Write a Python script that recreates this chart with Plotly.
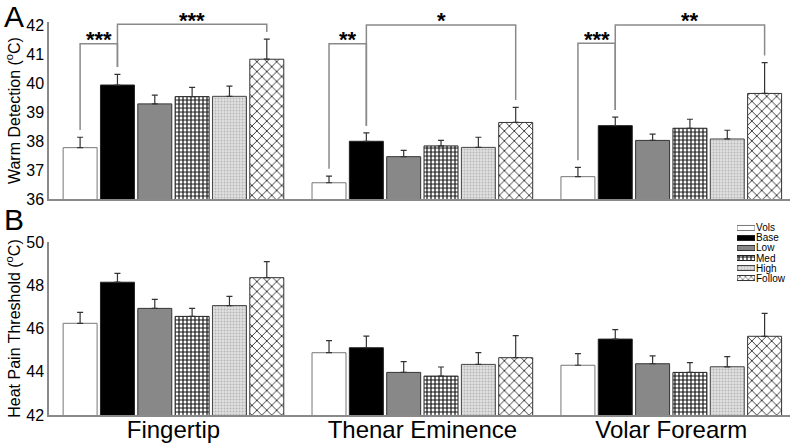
import plotly.graph_objects as go

# ---------------- data ----------------
sites = ["Fingertip", "Thenar Eminence", "Volar Forearm"]
series = ["Vols", "Base", "Low", "Med", "High", "Follow"]

warm_mean = {
    "Vols":   [37.77, 36.56, 36.77],
    "Base":   [39.93, 37.99, 38.53],
    "Low":    [39.28, 37.46, 38.02],
    "Med":    [39.53, 37.83, 38.44],
    "High":   [39.54, 37.78, 38.07],
    "Follow": [40.82, 38.64, 39.64],
}
warm_err = {
    "Vols":   [0.36, 0.23, 0.32],
    "Base":   [0.37, 0.29, 0.29],
    "Low":    [0.30, 0.22, 0.22],
    "Med":    [0.32, 0.19, 0.31],
    "High":   [0.35, 0.35, 0.30],
    "Follow": [0.69, 0.52, 1.06],
}
heat_mean = {
    "Vols":   [46.24, 44.88, 44.30],
    "Base":   [48.14, 45.11, 45.51],
    "Low":    [46.93, 43.97, 44.37],
    "Med":    [46.56, 43.80, 43.97],
    "High":   [47.06, 44.34, 44.23],
    "Follow": [48.35, 44.65, 45.64],
}
heat_err = {
    "Vols":   [0.51, 0.56, 0.54],
    "Base":   [0.41, 0.54, 0.44],
    "Low":    [0.42, 0.50, 0.36],
    "Med":    [0.37, 0.42, 0.45],
    "High":   [0.43, 0.54, 0.47],
    "Follow": [0.74, 1.02, 1.06],
}

# significance comparisons (panel A): site index, bar i, bar j, bracket level, label
sig_site = [0, 0, 1, 1, 2, 2]
sig_from = ["Vols", "Base", "Vols", "Base", "Vols", "Base"]
sig_to = ["Base", "Follow", "Base", "Follow", "Base", "Follow"]
sig_level = [41.35, 42.03, 41.35, 42.0, 41.37, 42.0]
sig_label = ["***", "***", "**", "*", "***", "**"]

warm_ticks = [36, 37, 38, 39, 40, 41, 42]
heat_ticks = [42, 44, 46, 48, 50]

# ---------------- styles ----------------
styles = {
    "Vols":   dict(bg="#ffffff", fg="#ffffff", shape="", size=8, sol=0.3, line="#777777"),
    "Base":   dict(bg="#000000", fg="#000000", shape="", size=8, sol=0.3, line="#222222"),
    "Low":    dict(bg="#888888", fg="#888888", shape="", size=8, sol=0.3, line="#333333"),
    "Med":    dict(bg="#ffffff", fg="#111111", shape="+", size=4, sol=0.5, line="#222222"),
    "High":   dict(bg="#e2e2e2", fg="#b5b5b5", shape=".", size=3, sol=0.35, line="#444444"),
    "Follow": dict(bg="#ffffff", fg="#333333", shape="x", size=7, sol=0.25, line="#333333"),
}

BARGAP = 0.1
n = len(series)
slot = (1 - BARGAP) / n


def bar_x(site_idx, name):
    j = series.index(name)
    return site_idx - (1 - BARGAP) / 2 + slot * (j + 0.5)


fig = go.Figure()

for name in series:
    s = styles[name]
    pat = dict(shape=s["shape"], fgcolor=s["fg"], bgcolor=s["bg"], size=s["size"],
               solidity=s["sol"], fillmode="replace")
    for means, errs, xa, ya in [(warm_mean, warm_err, "x", "y"), (heat_mean, heat_err, "x2", "y2")]:
        fig.add_trace(go.Bar(
            x=sites, y=means[name], name=name, xaxis=xa, yaxis=ya,
            marker=dict(color=s["bg"], line=dict(color=s["line"], width=1), pattern=pat),
            error_y=dict(type="data", array=errs[name], arrayminus=[0] * 3, symmetric=False,
                         color="#333333", thickness=1.2, width=3),
            showlegend=False, hoverinfo="skip",
        ))
    # legend patch on its own small axis
    fig.add_trace(go.Bar(
        x=[1], y=[name], orientation="h", xaxis="x3", yaxis="y3",
        width=0.5, offset=-0.25,
        marker=dict(color=s["bg"], line=dict(color=s["line"], width=1),
                    pattern=dict(shape=s["shape"], fgcolor=s["fg"], bgcolor=s["bg"],
                                 size=4 if s["shape"] == "x" else s["size"],
                                 solidity=s["sol"], fillmode="replace")),
        showlegend=False, hoverinfo="skip",
    ))

# brackets and stars
GAP = 0.25
for si, a, b, lvl, lab in zip(sig_site, sig_from, sig_to, sig_level, sig_label):
    xa_ = bar_x(si, a)
    xb_ = bar_x(si, b)
    ya_ = warm_mean[a][si] + warm_err[a][si] + GAP
    yb_ = warm_mean[b][si] + warm_err[b][si] + GAP
    fig.add_shape(type="path", xref="x", yref="y",
                  path=f"M {xa_},{ya_} L {xa_},{lvl} L {xb_},{lvl} L {xb_},{yb_}",
                  line=dict(color="#8a8a8a", width=1.5))
    fig.add_annotation(x=(xa_ + xb_) / 2, y=lvl, xref="x", yref="y", text="<b>" + lab + "</b>",
                       showarrow=False, yanchor="middle", yshift=4,
                       font=dict(size=22, color="black", family="Liberation Sans"))

# panel letters
fig.add_annotation(x=-0.064, y=1.005, xref="paper", yref="paper", text="A", showarrow=False,
                   xanchor="left", yanchor="top", font=dict(size=30, color="black", family="Liberation Sans"))
fig.add_annotation(x=-0.064, y=0.515, xref="paper", yref="paper", text="B", showarrow=False,
                   xanchor="left", yanchor="top", font=dict(size=30, color="black", family="Liberation Sans"))

axis_common = dict(showgrid=False, zeroline=False, ticks="", showline=True,
                   linecolor="#8a8a8a", linewidth=1.5, automargin=False)

fig.update_layout(
    width=796, height=446,
    margin=dict(l=49, r=6, t=0, b=31, autoexpand=False),
    paper_bgcolor="white", plot_bgcolor="white",
    barmode="group", bargap=BARGAP, bargroupgap=0.09,
    font=dict(family="Liberation Sans", color="black"),
    showlegend=False,
    xaxis=dict(domain=[0, 1], range=[-0.5, 2.477], anchor="y", showticklabels=False,
               showgrid=False, zeroline=False, ticks="", showline=True, automargin=False,
               linecolor="#8a8a8a", linewidth=1.5),
    yaxis=dict(domain=[0.52048, 0.94675], range=[36, 42.1], tickvals=warm_ticks,
               tickfont=dict(size=16), anchor="x",
               title=dict(text="Warm Detection (<sup>o</sup>C)", font=dict(size=16), standoff=2),
               **axis_common),
    xaxis2=dict(domain=[0, 1], range=[-0.5, 2.477], anchor="y2", tickfont=dict(size=24),
                ticklabelstandoff=-8,
                showgrid=False, zeroline=False, ticks="", showline=True, automargin=False,
                linecolor="#8a8a8a", linewidth=1.5),
    yaxis2=dict(domain=[0, 0.41687], range=[42, 50], tickvals=heat_ticks,
                tickfont=dict(size=16), anchor="x2",
                title=dict(text="Heat Pain Threshold (<sup>o</sup>C)", font=dict(size=16), standoff=2),
                **axis_common),
    xaxis3=dict(domain=[0.9285, 0.9528], range=[0, 1], anchor="y3", visible=False),
    yaxis3=dict(domain=[0.318, 0.4627], anchor="x3", side="right", autorange="reversed",
                tickmode="array", tickvals=series, ticktext=series,
                categoryorder="array", categoryarray=series, showgrid=False, zeroline=False,
                showline=False, ticks="", tickfont=dict(size=10), automargin=False),
)

fig.write_html("out.html", config={"displayModeBar": False},
               post_script="document.body.style.margin='0px';document.body.style.overflow='hidden';")
